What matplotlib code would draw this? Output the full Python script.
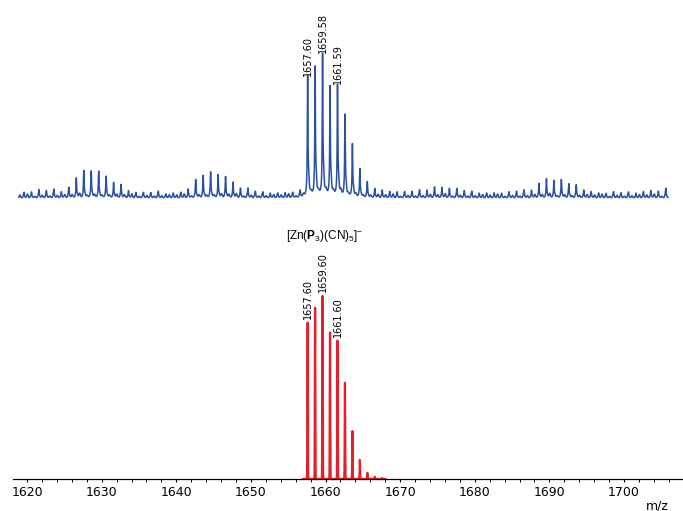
import numpy as np
import matplotlib
matplotlib.use("Agg")
import matplotlib.pyplot as plt
from matplotlib.ticker import MultipleLocator

# ---------------- data ----------------
# measured spectrum: isotope peaks every 1 Da from 1619.6 to 1705.6, relative intensity
meas_mz = np.arange(1619.6, 1706.0, 1.0)
meas_int = [
    0.030, 0.030, 0.040, 0.035, 0.040, 0.035, 0.060, 0.130, 0.180, 0.170,   # 1619.6-1628.6
    0.170, 0.130, 0.100, 0.080, 0.040, 0.025, 0.020, 0.020, 0.025, 0.020,   # 1629.6-1638.6
    0.020, 0.030, 0.050, 0.110, 0.140, 0.160, 0.155, 0.135, 0.100, 0.055,   # 1639.6-1648.6
    0.050, 0.030, 0.020, 0.025, 0.020, 0.025, 0.025, 0.030, 0.843, 0.897,   # 1649.6-1658.6
    1.000, 0.765, 0.780, 0.568, 0.357, 0.185, 0.090, 0.056, 0.040, 0.035,   # 1659.6-1668.6
    0.030, 0.025, 0.030, 0.035, 0.047, 0.063, 0.063, 0.054, 0.047, 0.035,   # 1669.6-1678.6
    0.025, 0.025, 0.020, 0.025, 0.020, 0.025, 0.030, 0.035, 0.045, 0.087,   # 1679.6-1688.6
    0.125, 0.110, 0.110, 0.082, 0.070, 0.047, 0.030, 0.025, 0.020, 0.025,   # 1689.6-1698.6
    0.020, 0.020, 0.025, 0.030, 0.042, 0.035, 0.050,                        # 1699.6-1705.6
]
# small baseline wiggles of the measured trace (two per Da)
fuzz_mz = np.arange(1619.05, 1706.0, 0.5)
fuzz_pattern = [0.020, 0.012, 0.026, 0.015, 0.010, 0.022, 0.017]
fuzz_int = (fuzz_pattern * 30)[:len(fuzz_mz)]

# simulated isotope pattern
sim_mz = [1657.6, 1658.6, 1659.6, 1660.6, 1661.6, 1662.6, 1663.6, 1664.6, 1665.6, 1666.6, 1667.6]
sim_int = [0.854, 0.936, 1.000, 0.800, 0.756, 0.526, 0.262, 0.104, 0.034, 0.012, 0.005]

meas_labels = [(1657.6, "1657.60"), (1659.6, "1659.58"), (1661.6, "1661.59")]
sim_labels = [(1657.6, "1657.60"), (1659.6, "1659.60"), (1661.6, "1661.60")]

formula = r"[Zn($\mathbf{P}_3$)(CN)$_5$]$^{-}$"
xticks = [1620, 1630, 1640, 1650, 1660, 1670, 1680, 1690, 1700]

# ---------------- rendering ----------------
BLUE = "#2c50a0"
RED = "#e3202b"

plt.rcParams["mathtext.fontset"] = "custom"
plt.rcParams["mathtext.rm"] = "Liberation Sans"
plt.rcParams["mathtext.bf"] = "Liberation Sans:bold"
plt.rcParams["mathtext.it"] = "Liberation Sans:italic"


def meas_profile(x, centers, heights):
    y = np.zeros_like(x)
    for c, h in zip(centers, heights):
        y += h / (1.0 + ((x - c) / 0.045) ** 2)
        y += 0.12 * h * np.exp(-((x - c - 0.13) / 0.10) ** 2)
        y += 0.04 * h / (1.0 + ((x - c - 0.2) / 0.4) ** 2)
    return y / 1.06


def fuzz_profile(x, centers, heights):
    y = np.zeros_like(x)
    for c, h in zip(centers, heights):
        y += h * np.exp(-((x - c) / 0.12) ** 2)
    return y


def sim_profile(x, centers, heights):
    y = np.zeros_like(x)
    for c, h in zip(centers, heights):
        y += h * np.exp(-0.5 * ((x - c) / 0.03) ** 2)
    return y


fig = plt.figure(figsize=(6.83, 5.11), dpi=100)
XL = (1618.08, 1707.9)

ax_top = fig.add_axes([0.0186, 0.5959, 0.9814, 0.3112])
ax_bot = fig.add_axes([0.0186, 0.06262, 0.9814, 0.3761])

# top: measured
xg = np.arange(1618.9, 1705.9, 0.005)
yg = meas_profile(xg, meas_mz, meas_int) + fuzz_profile(xg, fuzz_mz, fuzz_int)
ax_top.plot(xg, yg, color=BLUE, lw=1.1, clip_on=False)
ax_top.set_xlim(*XL)
ax_top.set_ylim(-0.06, 1.06)
ax_top.axis("off")
for mz, lab in meas_labels:
    h = meas_profile(np.array([mz]), meas_mz, meas_int)[0]
    ax_top.text(mz, h + 0.012, lab, rotation=90, ha="center", va="bottom",
                fontsize=7, color="black", family="DejaVu Sans")

# bottom: simulated
xs = np.arange(1657.0, 1668.0, 0.004)
ys = sim_profile(xs, sim_mz, sim_int)
ax_bot.plot(xs, ys, color=RED, lw=1.6, clip_on=False)
ax_bot.set_xlim(*XL)
ax_bot.set_ylim(0, 1.05)
for mz, lab in sim_labels:
    h = sim_int[sim_mz.index(mz)]
    ax_bot.text(mz, h + 0.02, lab, rotation=90, ha="center", va="bottom",
                fontsize=7, color="black", family="DejaVu Sans")

for s in ["top", "left", "right"]:
    ax_bot.spines[s].set_visible(False)
ax_bot.spines["bottom"].set_linewidth(0.9)
ax_bot.set_yticks([])
ax_bot.set_xticks(xticks)
ax_bot.set_xticklabels([str(t) for t in xticks])
ax_bot.xaxis.set_minor_locator(MultipleLocator(2))
ax_bot.tick_params(axis="x", which="major", length=2.5, width=0.8, pad=2.5,
                   labelsize=9, direction="out")
ax_bot.tick_params(axis="x", which="minor", length=1.8, width=0.7, direction="out")
for t in ax_bot.get_xticklabels():
    t.set_family("DejaVu Sans")

fig.text(657 / 683, 1 - 506 / 511, "m/z", ha="center", va="center",
         fontsize=9, family="DejaVu Sans")
fig.text(325 / 683, 1 - 236 / 511, formula, ha="center", va="center",
         fontsize=8.5, family="Liberation Sans")

fig.savefig("out.png", dpi=100)
